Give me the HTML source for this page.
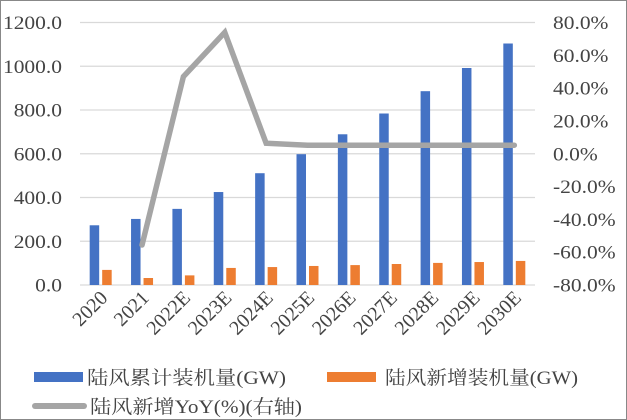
<!DOCTYPE html>
<html><head><meta charset="utf-8"><style>
body{margin:0;background:#fff;width:627px;height:420px;overflow:hidden}
svg{display:block;font-family:"Liberation Serif","Noto Serif CJK SC",serif}
</style></head><body>
<svg id="c" width="627" height="420">
<rect x="0.5" y="0.5" width="626" height="419" fill="#fff" stroke="#888"/>
<g id="grid"></g><g id="bars"></g><g id="line"></g><g id="axes"></g>
<g>
<rect x="34" y="372" width="49" height="10" fill="#4472C4"/>
<text x="87" y="384" font-size="19" fill="#444" textLength="199" lengthAdjust="spacingAndGlyphs">陆风累计装机量(GW)</text>
<rect x="327" y="372" width="49" height="10" fill="#ED7D31"/>
<text x="385" y="384" font-size="19" fill="#444" textLength="193" lengthAdjust="spacingAndGlyphs">陆风新增装机量(GW)</text>
<line x1="35" y1="406" x2="84" y2="406" stroke="#A5A5A5" stroke-width="6" stroke-linecap="round"/>
<text x="90" y="413" font-size="19" fill="#444" textLength="212" lengthAdjust="spacingAndGlyphs">陆风新增YoY(%)(右轴)</text>
</g>
</svg>
<script>
const categories=["2020","2021","2022E","2023E","2024E","2025E","2026E","2027E","2028E","2029E","2030E"];
const cumulative=[273,302,348,425,511,598,689,784,886,992,1104];
const newAdded=[69,32,44,78,82,87,91,96,101,105,110];
const yoy=[null,-55.6,47,74,6.4,5.2,5.2,5.2,5.2,5.2,5.2];
const leftTicks=[0,200,400,600,800,1000,1200];
const rightTicks=[-80,-60,-40,-20,0,20,40,60,80];
const NS="http://www.w3.org/2000/svg";
const X0=80,X1=535,Y0=285,Y1=22.5;
const slot=(X1-X0)/categories.length;
const xc=i=>X0+slot*(i+0.5);
const yL=v=>Y0-(v/1200)*(Y0-Y1);
const yR=v=>Y0-((v+80)/160)*(Y0-Y1);
function mk(t,a,p){const e=document.createElementNS(NS,t);for(const k in a)e.setAttribute(k,a[k]);p.appendChild(e);return e;}
const grid=document.getElementById('grid'),bars=document.getElementById('bars'),line=document.getElementById('line'),axes=document.getElementById('axes');
leftTicks.forEach(v=>{
 const l=mk('line',{x1:X0,x2:X1,y1:yL(v),y2:yL(v),stroke:'#d9d9d9','stroke-width':1.3},grid);
 
 
 const t=mk('text',{x:0,y:0,'font-size':19,fill:'#444','text-anchor':'end',transform:`translate(62,${yL(v)+6.5}) scale(1.13,1)`},axes);
 t.textContent=v.toFixed(1);
 
 
});
rightTicks.forEach(v=>{
 const t=mk('text',{x:0,y:0,'font-size':19,fill:'#444',transform:`translate(553,${yR(v)+6.5}) scale(1.13,1)`},axes);
 t.textContent=v.toFixed(1)+'%';
 
 
});
categories.forEach((c,i)=>{
 const b=mk('rect',{x:xc(i)-11,y:yL(cumulative[i]),width:9.5,height:Y0-yL(cumulative[i]),fill:'#4472C4'},bars);
 
 
 const o=mk('rect',{x:xc(i)+1.5,y:yL(newAdded[i]),width:9.5,height:Y0-yL(newAdded[i]),fill:'#ED7D31'},bars);
 
 
 const t=mk('text',{x:0,y:0,'font-size':20,fill:'#444','text-anchor':'end',transform:`translate(${xc(i)+8},${Y0+14}) rotate(-45)`},axes);
 t.textContent=c;
 
 
});
const pts=[];yoy.forEach((v,i)=>{if(v!==null)pts.push(xc(i)+','+yR(v));});
const pl=mk('polyline',{points:pts.join(' '),fill:'none',stroke:'#A5A5A5','stroke-width':5.5,'stroke-linejoin':'miter','stroke-linecap':'round'},line);


</script>
</body></html>
